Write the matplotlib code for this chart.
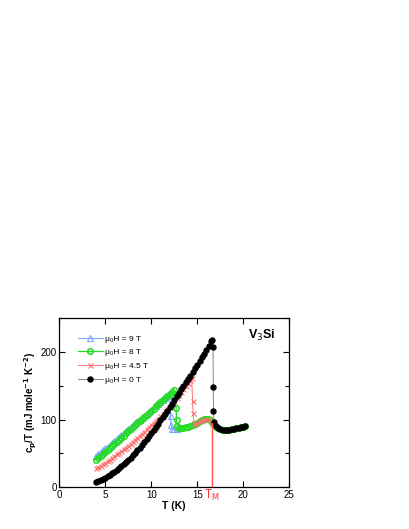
import matplotlib
matplotlib.use("Agg")
import matplotlib.pyplot as plt
from matplotlib.ticker import MultipleLocator

plt.rcParams['font.family'] = ['Liberation Sans', 'DejaVu Sans']

# -------------------------------
# data (T in K, cp/T in mJ mole^-1 K^-2)
# -------------------------------
t_9T = [4.0, 4.25, 4.5, 4.75, 5.0, 5.25, 5.5, 5.75, 6.0, 6.25, 6.5, 6.75, 7.0,
        7.25, 7.5, 7.75, 8.0, 8.25, 8.5, 8.75, 9.0, 9.25, 9.5, 9.75, 10.0,
        10.25, 10.5, 10.75, 11.0, 11.25, 11.5, 11.75, 12.0,
        12.1, 12.15, 12.25, 12.5, 12.75, 13.0]
c_9T = [46, 49, 51.5, 54.5, 57.5, 60, 63, 66, 69, 71.5, 74.5, 77.5, 80, 83,
        86, 89, 91.5, 94.5, 97.5, 100, 103, 106, 108.5, 111.5, 114.5, 117,
        120, 123, 126, 128.5, 131.5, 134.5, 137,
        105, 92, 86, 85.5, 86, 87]

t_8T = [4.0, 4.25, 4.5, 4.75, 5.0, 5.25, 5.5, 5.75, 6.0, 6.25, 6.5, 6.75, 7.0,
        7.25, 7.5, 7.75, 8.0, 8.25, 8.5, 8.75, 9.0, 9.25, 9.5, 9.75, 10.0,
        10.25, 10.5, 10.75, 11.0, 11.25, 11.5, 11.75, 12.0, 12.25, 12.5,
        12.7, 12.75, 12.85, 13.0, 13.25, 13.5, 13.75, 14.0, 14.25, 14.5,
        14.75, 15.0, 15.25, 15.5, 15.75, 16.0, 16.25, 16.5, 16.75, 17.0,
        17.25, 17.5, 17.75, 18.0, 18.25, 18.5, 18.75, 19.0, 19.25, 19.5,
        19.75, 20.0, 20.25]
c_8T = [40, 43, 46, 49, 52, 55, 58.5, 61.5, 64.5, 67.5, 70.5, 73.5, 76.5,
        79.5, 82.5, 86, 89, 92, 95, 98, 101, 104, 107, 110, 113, 116, 119.5,
        122.5, 125.5, 128.5, 131.5, 134.5, 137.5, 140.5, 143.5,
        117, 100, 90, 87.5, 87.5, 88, 88.5, 89, 90, 91.5, 93.5, 95.5, 97.5,
        99, 100.5, 101, 100.5, 97.5, 93, 89, 87, 85.5, 85, 84.5, 84.5, 85,
        85.5, 86, 87, 88, 88.5, 89, 90]

t_45T = [4.0, 4.25, 4.5, 4.75, 5.0, 5.25, 5.5, 5.75, 6.0, 6.25, 6.5, 6.75,
         7.0, 7.25, 7.5, 7.75, 8.0, 8.25, 8.5, 8.75, 9.0, 9.25, 9.5, 9.75,
         10.0, 10.25, 10.5, 10.75, 11.0, 11.25, 11.5, 11.75, 12.0, 12.25,
         12.5, 12.75, 13.0, 13.25, 13.5, 13.75, 14.0, 14.25, 14.4,
         14.5, 14.55, 14.65, 14.75, 15.0, 15.25, 15.5, 15.75, 16.0, 16.25,
         16.5, 16.75]
c_45T = [28, 30, 32, 34, 36.5, 38.5, 41, 43.5, 46, 48.5, 51, 53.5, 56, 58.5,
         61.5, 64, 67, 70, 73, 76, 79, 82, 85.5, 88.5, 92, 95, 98.5, 101.5,
         105, 108.5, 112, 115.5, 119, 123, 127, 131.5, 136, 140.5, 145, 149.5,
         154, 158.5, 161,
         127, 110, 95, 93.5, 95.5, 97.5, 99, 100.5, 101.5, 101, 98, 93]

t_0T = [4.0, 4.25, 4.5, 4.75, 5.0, 5.25, 5.5, 5.75, 6.0, 6.25, 6.5, 6.75, 7.0,
        7.25, 7.5, 7.75, 8.0, 8.25, 8.5, 8.75, 9.0, 9.25, 9.5, 9.75, 10.0,
        10.25, 10.5, 10.75, 11.0, 11.25, 11.5, 11.75, 12.0, 12.25, 12.5,
        12.75, 13.0, 13.25, 13.5, 13.75, 14.0, 14.25, 14.5, 14.75, 15.0,
        15.25, 15.5, 15.75, 16.0, 16.25, 16.5, 16.6,
        16.72, 16.74, 16.76, 16.85, 17.0, 17.25, 17.5, 17.75, 18.0, 18.25,
        18.5, 18.75, 19.0, 19.25, 19.5, 19.75, 20.0, 20.25]
c_0T = [8, 9.5, 11, 12.5, 14, 16, 18, 20.5, 23, 25.5, 28.5, 31, 34, 37, 40.5,
        43.5, 47, 50.5, 54.5, 58, 62, 66.5, 71, 75.5, 80, 84.5, 89, 94, 99,
        103.5, 108.5, 113, 118, 123.5, 129, 134.5, 140, 145, 150, 155, 160,
        165, 170.5, 176, 181, 186.5, 192, 197.5, 203, 209, 216, 218,
        207, 148, 113, 96, 90, 87, 85.5, 85, 84.5, 84.5, 85, 85.5, 86, 87,
        88, 88.5, 89, 90]

t_M = 16.63
labels = ['μ₀H = 9 T', 'μ₀H = 8 T', 'μ₀H = 4.5 T', 'μ₀H = 0 T']

# -------------------------------
# plot
# -------------------------------
fig = plt.figure(figsize=(4.09, 5.29), dpi=100)
ax = fig.add_axes([0.145, 0.0788, 0.562, 0.320])

ax.plot(t_9T, c_9T, color='#7fa6ff', lw=0.8, marker='^', ms=3.8,
        mfc='none', mec='#7fa6ff', mew=0.8, label=labels[0])
ax.plot(t_8T, c_8T, color='#22dd22', lw=0.9, marker='o', ms=4.0,
        mfc='none', mec='#22dd22', mew=1.1, label=labels[1])
ax.plot(t_45T, c_45T, color='#ff7070', lw=0.7, marker='x', ms=3.6,
        mec='#ff7070', mew=0.8, label=labels[2])
ax.plot(t_0T, c_0T, color='#555555', lw=0.5, marker='o', ms=3.6,
        mfc='black', mec='black', label=labels[3])

# martensitic transition marker
ax.plot([t_M, t_M], [0, 95], color='#ff5050', lw=1.0)
ax.text(t_M, -1, r'T$_\mathrm{M}$', color='#ff3030', fontsize=8.5,
        ha='center', va='top')

ax.text(22.0, 225, r'V$_3$Si', fontsize=9, fontweight='bold',
        ha='center', va='center')

ax.set_xlim(0, 25)
ax.set_ylim(0, 250)
ax.xaxis.set_major_locator(MultipleLocator(5))
ax.yaxis.set_major_locator(MultipleLocator(100))
ax.yaxis.set_minor_locator(MultipleLocator(50))
ax.tick_params(which='both', direction='in', top=True, right=True,
               labelsize=7, pad=2)
ax.tick_params(which='major', length=4, width=0.8)
ax.tick_params(which='minor', length=3, width=0.8)
for s in ax.spines.values():
    s.set_linewidth(0.9)

ax.set_xlabel('T (K)', fontsize=7.5, fontweight='bold', labelpad=1)
ax.set_ylabel(r'c$_\mathbf{p}$/T (mJ mole$^\mathbf{-1}$ K$^\mathbf{-2}$)',
              fontsize=7, fontweight='bold', labelpad=1)

ax.legend(loc='upper left', bbox_to_anchor=(0.065, 0.92), frameon=False,
          fontsize=6, numpoints=1, handlelength=3.0, handletextpad=0.3,
          labelspacing=0.7, borderaxespad=0)

fig.savefig('out.png', dpi=100)
